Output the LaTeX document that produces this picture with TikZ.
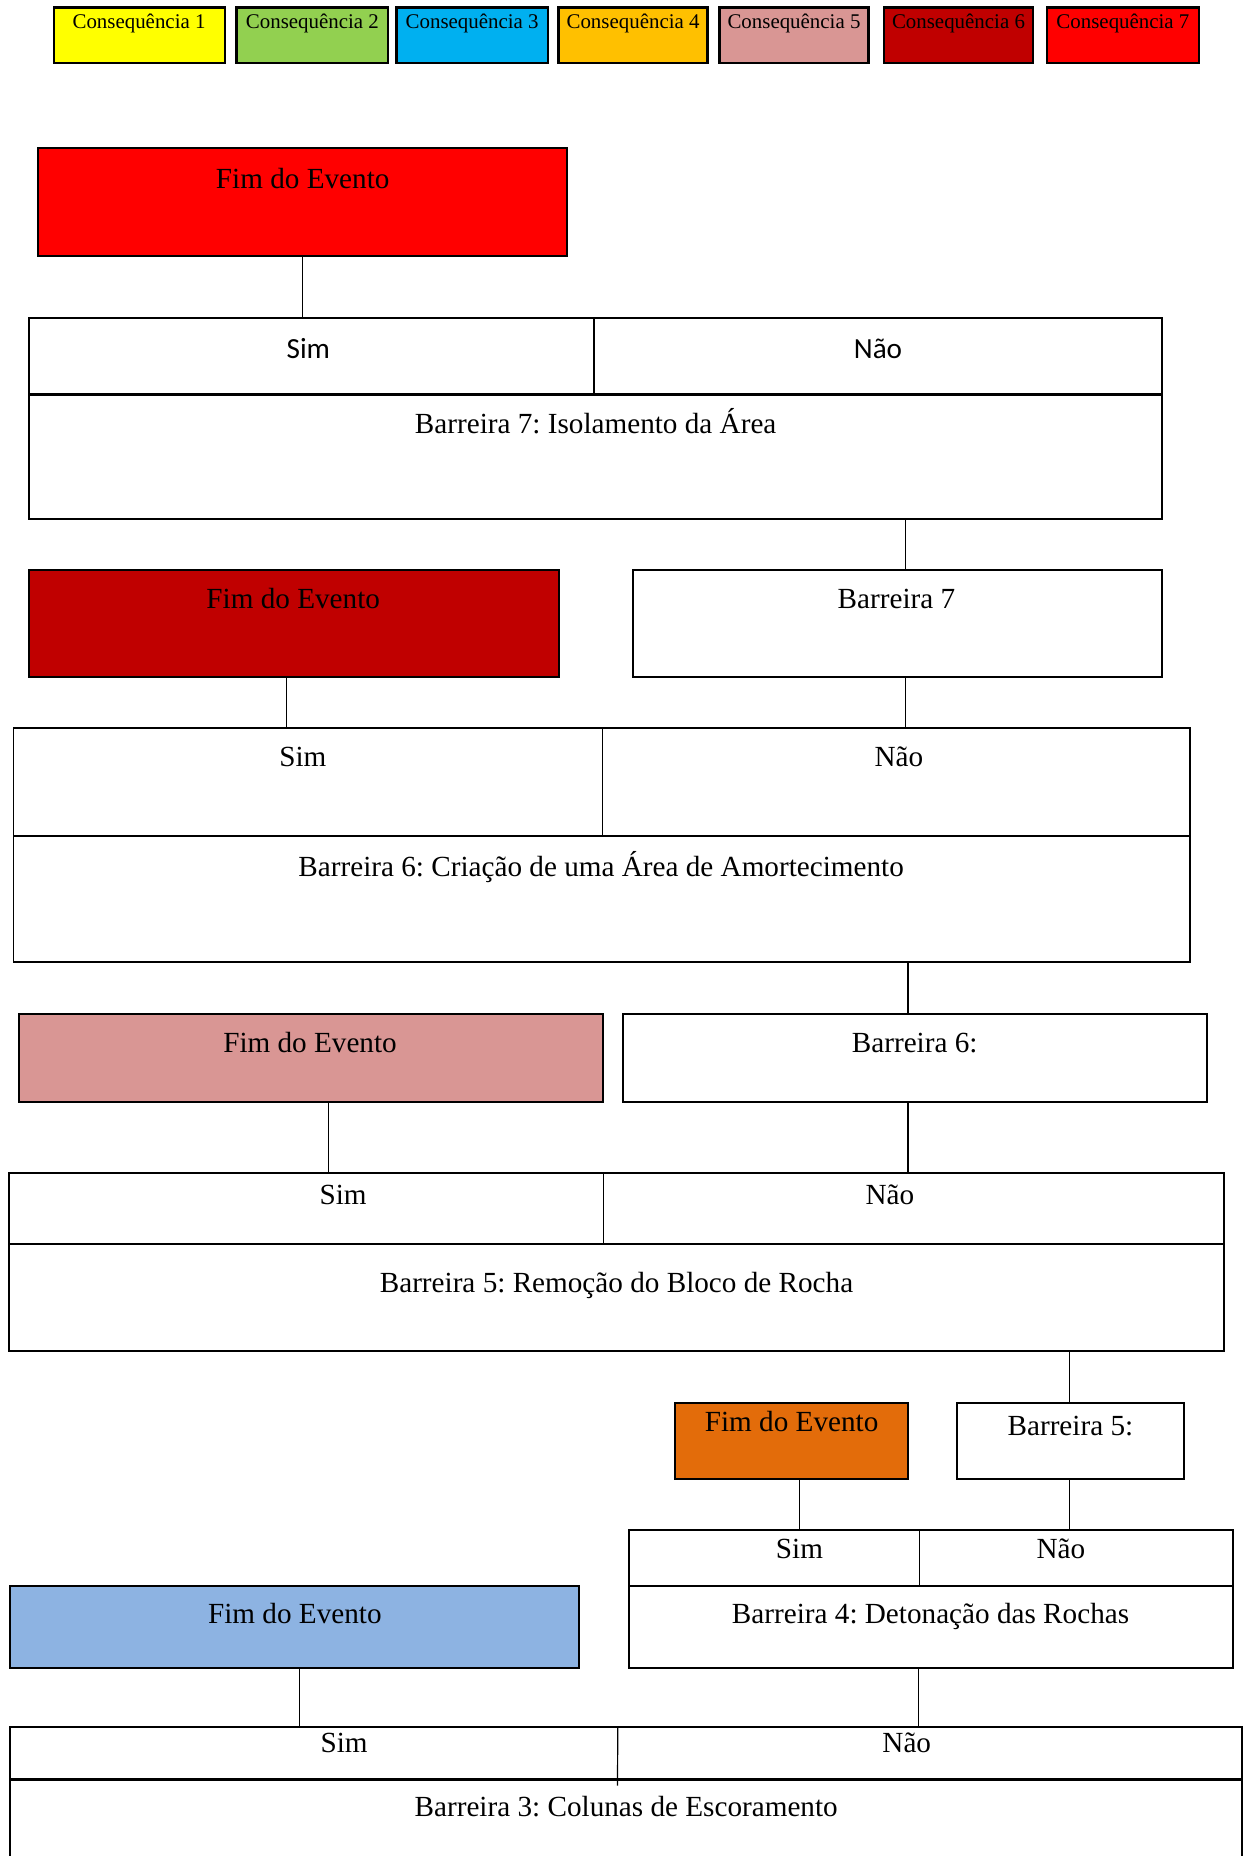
\documentclass[tikz,border=0pt]{standalone}
\usepackage{fontspec}
\setmainfont{Liberation Serif}
\newfontfamily\carlitofont{Carlito}
\usetikzlibrary{fit}
\definecolor{cyel}{HTML}{FFFF00}
\definecolor{cgreen}{HTML}{92D050}
\definecolor{ccyan}{HTML}{00B0F0}
\definecolor{camber}{HTML}{FFC000}
\definecolor{cpink}{HTML}{D99694}
\definecolor{cdred}{HTML}{C00000}
\definecolor{cred}{HTML}{FF0000}
\definecolor{corange}{HTML}{E36C0A}
\definecolor{cblue}{HTML}{8DB3E2}
\newcommand\rbox[6]{\node[box,fit={(#2,#3) (#4,#5)},#6] (#1) {};}
\newcommand\rcell[5]{\node[cellbox,fit={(#2,#3) (#4,#5)}] (#1) {};}
\frenchspacing
\begin{document}
\frenchspacing
\begin{tikzpicture}[x=0.6pt,y=-0.6pt,
  box/.style={draw=black, line width=1pt, inner sep=0pt},
  cellbox/.style={inner sep=0pt},
  txt/.style={anchor=base, inner sep=0pt, font=\fontsize{14.8}{17}\selectfont},
  leg/.style={anchor=base, inner sep=0pt, font=\fontsize{10.6}{12}\selectfont},
  conn/.style={line width=0.6pt},
  divh/.style={line width=1.2pt},
  divv/.style={line width=0.6pt}]
\clip (0,0) rectangle (1053,1568.5);
\fill[white] (0,0) rectangle (1053,1568.5);

% legend
\rbox{c1}{45.7}{6.2}{190}{53.5}{fill=cyel, line width=1.2pt}
\rbox{c2}{200}{6.2}{328}{53.5}{fill=cgreen, line width=1.2pt}
\rbox{c3}{335}{6.2}{463}{53.5}{fill=ccyan, line width=1.2pt}
\rbox{c4}{472}{6.2}{598}{53.5}{fill=camber, line width=1.2pt}
\rbox{c5}{608}{6.2}{734}{53.5}{fill=cpink, line width=1.2pt}
\rbox{c6}{747}{6.2}{873}{53.5}{fill=cdred, line width=1.2pt}
\rbox{c7}{885}{6.2}{1013}{53.5}{fill=cred, line width=1.2pt}
\node[leg] (c1t) at (117.5,24.2) {Consequência 1};
\node[leg] (c2t) at (264,24.2) {Consequência 2};
\node[leg] (c3t) at (399,24.2) {Consequência 3};
\node[leg] (c4t) at (535,24.2) {Consequência 4};
\node[leg] (c5t) at (671,24.2) {Consequência 5};
\node[leg] (c6t) at (810,24.2) {Consequência 6};
\node[leg] (c7t) at (949,24.2) {Consequência 7};

% section 1
\rbox{fim7}{32}{125.4}{479.5}{216}{fill=cred}
\node[txt] (fim7t) at (255.8,158.9) {Fim do Evento};
\rbox{b7}{24.8}{269}{981.8}{438.9}{}
\rcell{s7}{24.8}{269}{501.7}{333.8}
\rcell{n7}{501.7}{269}{981.8}{333.8}
\rcell{r7}{24.8}{333.8}{981.8}{438.9}
\draw[divh] (r7.north west) -- (r7.north east);
\draw[divv] (s7.north east) -- (s7.south east);
\node[txt, font=\carlitofont\fontsize{14.8}{17}\selectfont] (s7t) at (260.6,302.6) {Sim};
\node[txt, font=\carlitofont\fontsize{14.8}{17}\selectfont] (n7t) at (742,302.6) {Não};
\node[txt] (r7t) at (503.4,366) {Barreira 7: Isolamento da Área};
\draw[conn] (fim7.south) -- (fim7.south |- b7.north);

% section 2
\coordinate (x7) at (765,0);
\rbox{fim6}{24.8}{481.7}{472.8}{572.4}{fill=cdred}
\node[txt] (fim6t) at (247.8,514.6) {Fim do Evento};
\rbox{b7box}{534.6}{481.7}{981.8}{572.4}{}
\node[txt] (b7boxt) at (757.6,514.6) {Barreira 7};
\draw[conn] (b7.south -| x7) -- (b7box.north -| x7);
\rbox{b6}{11.4}{615.5}{1005.4}{812.6}{}
\rcell{s6}{11.4}{615.5}{509}{706.7}
\rcell{n6}{509}{615.5}{1005.4}{706.7}
\rcell{r6}{11.4}{706.7}{1005.4}{812.6}
\draw[divh] (r6.north west) -- (r6.north east);
\draw[divv] (s6.north east) -- (s6.south east);
\node[txt] (s6t) at (255.9,647.6) {Sim};
\node[txt] (n6t) at (759.6,647.6) {Não};
\node[txt] (r6t) at (508,740.6) {Barreira 6: Criação de uma Área de Amortecimento};
\coordinate (x6a) at (242.4,0);
\draw[conn] (fim6.south -| x6a) -- (b6.north -| x6a);
\draw[conn] (b7box.south -| x7) -- (b6.north -| x7);

% section 3
\coordinate (x6b) at (767.3,0);
\rbox{fim5}{16.1}{857}{509.7}{931.5}{fill=cpink}
\node[txt] (fim5t) at (262,889.8) {Fim do Evento};
\rbox{b6box}{526.5}{857}{1020}{931.5}{}
\node[txt] (b6boxt) at (773,889.8) {Barreira 6:};
\draw[conn] (b6.south -| x6b) -- (b6box.north -| x6b);
\rbox{b5}{8}{991.2}{1034}{1141.6}{}
\rcell{s5}{8}{991.2}{510}{1051.5}
\rcell{n5}{510}{991.2}{1034}{1051.5}
\rcell{r5}{8}{1051.5}{1034}{1141.6}
\draw[divh] (r5.north west) -- (r5.north east);
\draw[divv] (s5.north east) -- (s5.south east);
\node[txt] (s5t) at (290,1018.2) {Sim};
\node[txt] (n5t) at (752,1018.2) {Não};
\node[txt] (r5t) at (521,1092.2) {Barreira 5: Remoção do Bloco de Rocha};
\coordinate (x5a) at (277.4,0);
\draw[conn] (fim5.south -| x5a) -- (b5.north -| x5a);
\draw[conn] (b6box.south -| x6b) -- (b5.north -| x6b);

% section 4
\coordinate (x5b) at (904,0);
\rbox{fim4}{570.2}{1185.4}{767.6}{1249.9}{fill=corange}
\node[txt] (fim4t) at (669,1209.6) {Fim do Evento};
\rbox{b5box}{808.6}{1185.4}{1000.7}{1249.9}{}
\node[txt] (b5boxt) at (904.6,1213.2) {Barreira 5:};
\draw[conn] (b5.south -| x5b) -- (b5box.north -| x5b);
\rbox{b4}{531.2}{1292.7}{1041.6}{1409.9}{}
\rcell{s4}{531.2}{1292.7}{776.4}{1340.9}
\rcell{n4}{776.4}{1292.7}{1041.6}{1340.9}
\rcell{r4}{531.2}{1340.9}{1041.6}{1409.9}
\draw[divh] (r4.north west) -- (r4.north east);
\draw[divv] (s4.north east) -- (s4.south east);
\node[txt] (s4t) at (675.6,1316.7) {Sim};
\node[txt] (n4t) at (896.6,1316.7) {Não};
\node[txt] (r4t) at (786.4,1371.6) {Barreira 4: Detonação das Rochas};
\coordinate (x4a) at (675.6,0);
\draw[conn] (fim4.south -| x4a) -- (b4.north -| x4a);
\draw[conn] (b5box.south -| x5b) -- (b4.north -| x5b);

% section 5
\rbox{fim3}{8.1}{1340.3}{489.6}{1409.9}{fill=cblue}
\node[txt] (fim3t) at (249.2,1371.6) {Fim do Evento};
\rbox{b3}{8.1}{1459.2}{1049.7}{1640}{}
\rcell{s3}{8.1}{1459.2}{521.8}{1504.2}
\rcell{n3}{521.8}{1459.2}{1049.7}{1504.2}
\rcell{r3}{8.1}{1504.2}{1049.7}{1640}
\coordinate (x3v) at (521.8,1509);
\draw[divh] (r3.north west) -- (r3.north east);
\draw[divv] (s3.north east) -- (x3v);
\node[txt] (s3t) at (290.8,1481.4) {Sim};
\node[txt] (n3t) at (766.3,1481.4) {Não};
\node[txt] (r3t) at (529.2,1535) {Barreira 3: Colunas de Escoramento};
\coordinate (x3a) at (253.2,0);
\coordinate (x4b) at (776.4,0);
\draw[conn] (fim3.south -| x3a) -- (b3.north -| x3a);
\draw[conn] (b4.south -| x4b) -- (b3.north -| x4b);
\end{tikzpicture}
\end{document}
